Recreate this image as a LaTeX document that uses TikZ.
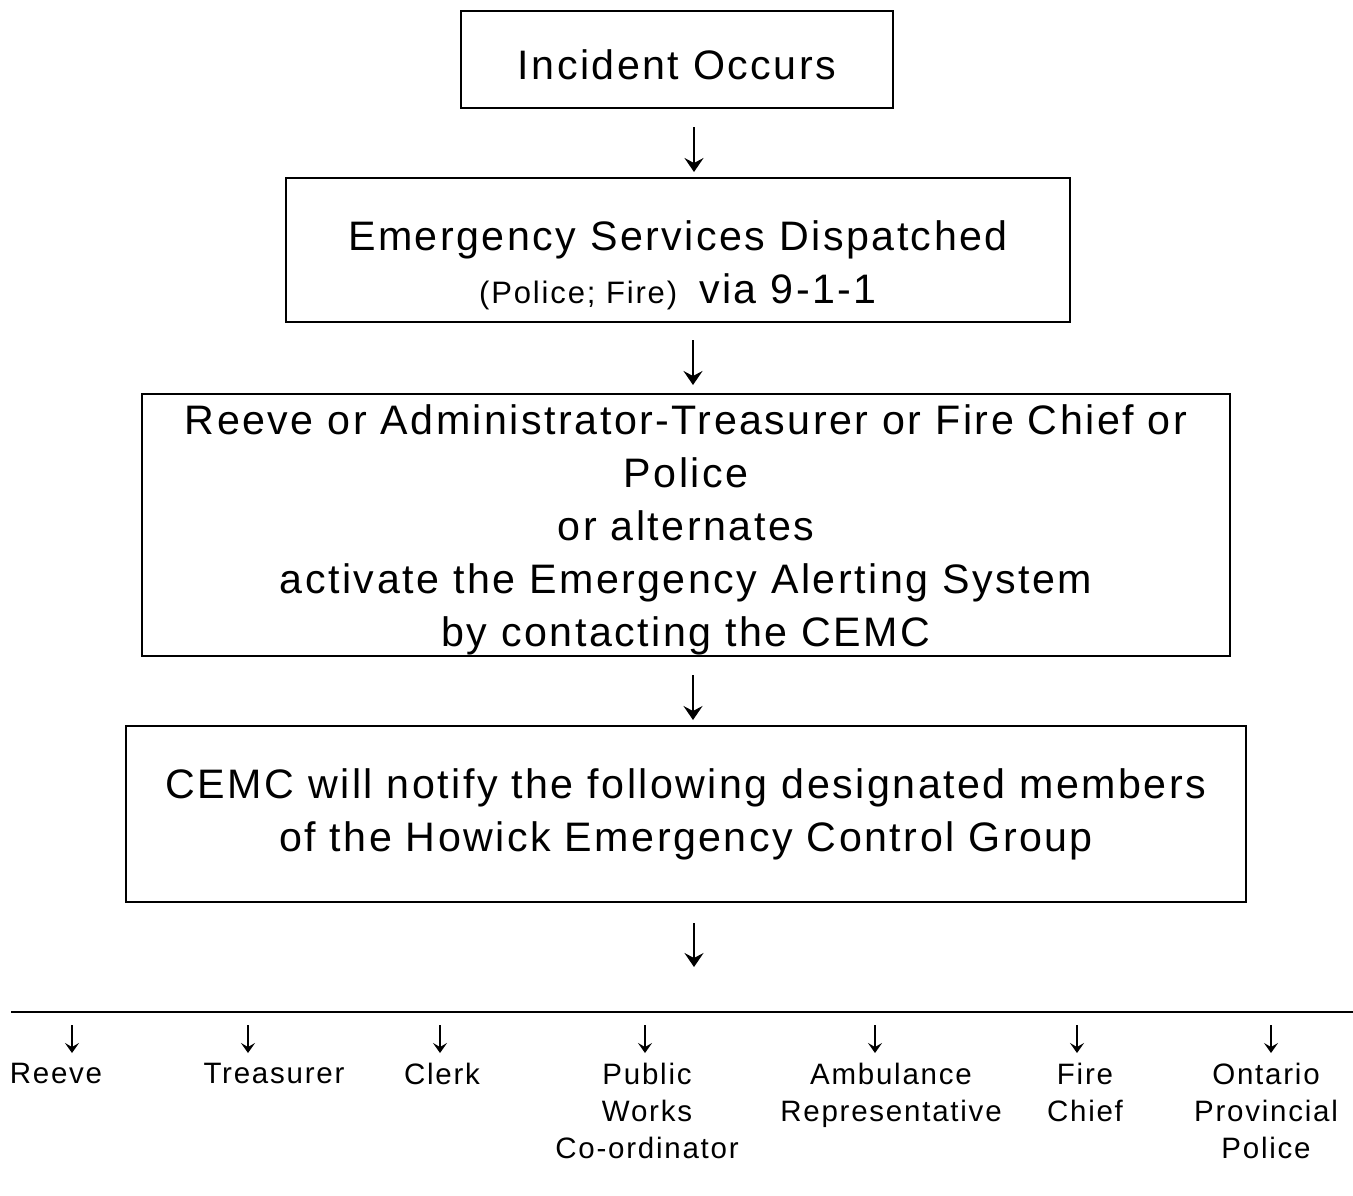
\documentclass[tikz,border=0pt]{standalone}
\usepackage{fontspec}
\setmainfont{Liberation Sans}[LetterSpace=6]
\usetikzlibrary{arrows.meta}
\begin{document}
\begin{tikzpicture}[x=0.5pt,y=-0.5pt,
  stepbox/.style={draw=black,line width=1pt,inner sep=0pt,align=center,
    font=\fontsize{20.6}{26.5}\selectfont},
  bigarrow/.style={line width=1pt,-{Stealth[length=7pt,width=9.5pt,inset=2.5pt]}},
  smallarrow/.style={line width=0.75pt,-{Stealth[length=5pt,width=7pt,inset=2pt]}},
  member/.style={inner sep=0pt,anchor=north,align=center,
    font=\fontsize{14.75}{18.5}\selectfont}]
\useasboundingbox (0,0) rectangle (1353,1195);

\node[stepbox,minimum width=216pt,minimum height=48.5pt] (incident) at (677,59.5)
  {\rule{0pt}{20pt}Incident Occurs};

\node[stepbox,minimum width=392pt,minimum height=72pt,
  font=\fontsize{20.6}{27.5}\selectfont] (services) at (678,250)
  {\rule{0pt}{30pt}Emergency Services Dispatched\\[-1pt]{\fontsize{15.5}{27.5}\selectfont(Police; Fire)}\hspace{11pt}via 9-1-1};

\node[stepbox,minimum width=544pt,minimum height=131pt] (activate) at (686,525)
  {\rule{0pt}{20pt}Reeve or Administrator-Treasurer or Fire Chief or\\Police\\or alternates\\activate the Emergency Alerting System\\by contacting the CEMC};

\node[stepbox,minimum width=560pt,minimum height=88pt] (notify) at (686,814)
  {CEMC will notify the following designated members\\of the Howick Emergency Control Group};

\coordinate (a1s) at (694,127); \coordinate (a1e) at (694,172);
\coordinate (a2s) at (693,340); \coordinate (a2e) at (693,385);
\coordinate (a3s) at (693,675); \coordinate (a3e) at (693,720);
\coordinate (a4s) at (694,923); \coordinate (a4e) at (694,967);
\draw[bigarrow] (a1s) -- (a1e);
\draw[bigarrow] (a2s) -- (a2e);
\draw[bigarrow] (a3s) -- (a3e);
\draw[bigarrow] (a4s) -- (a4e);

\coordinate (barl) at (11,1012); \coordinate (barr) at (1353,1012);
\draw[line width=1pt] (barl) -- (barr);

\node[member] (reeve) at (56,1063) {Reeve};
\node[member] (treas) at (274,1063) {Treasurer};
\node[member] (clerk) at (442,1063) {Clerk};
\node[member] (works) at (647,1063) {Public\\Works\\Co-ordinator};
\node[member] (amb) at (891,1063) {Ambulance\\Representative};
\node[member] (fire) at (1085,1063) {Fire\\Chief};
\node[member] (opp) at (1266,1063) {Ontario\\Provincial\\Police};

\foreach \x/\n in {72/r,248/t,440/c,645/w,875/a,1077/f,1271/o}{
  \coordinate (s\n) at (\x,1025); \coordinate (e\n) at (\x,1053);
  \draw[smallarrow] (s\n) -- (e\n);
}
\end{tikzpicture}
\end{document}
